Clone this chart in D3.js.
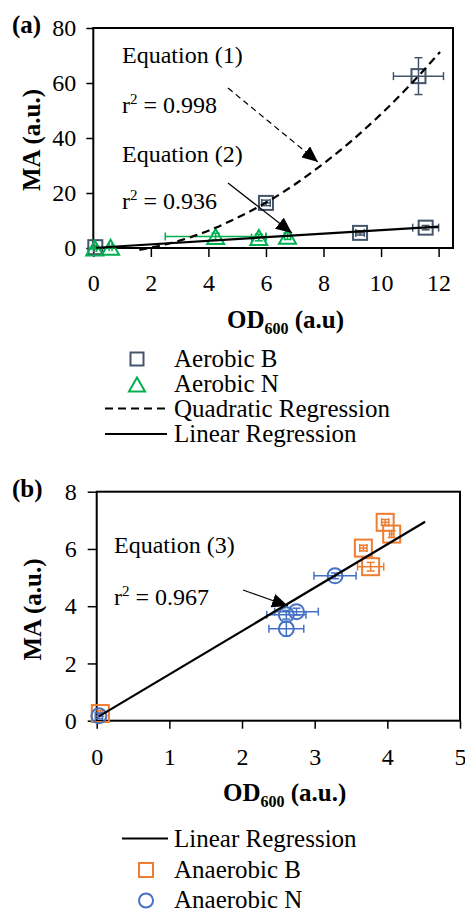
<!DOCTYPE html>
<html>
<head>
<meta charset="UTF-8">
<title>MA vs OD600</title>
<script src="https://d3js.org/d3.v7.min.js"></script>
<style>
  body { margin: 0; background: #fff; }
  svg { display: block; font-family: "Liberation Serif", "Times New Roman", serif; }
  .tick text { font-size: 24px; fill: #000; }
  .tick line { stroke: #000; stroke-width: 1.5px; }
</style>
</head>
<body>
<svg width="465" height="911"></svg>
<script>
// ---- panel (a) data ----
const aerobicB_x  = [0.07, 6.0, 9.27, 11.55, 11.3];
const aerobicB_y  = [0.3, 16.4, 5.5, 7.4, 62.5];
const aerobicB_ex = [0.05, 0.15, 0.15, 0.45, 0.87];
const aerobicB_ey = [0.4, 1.0, 0.8, 0.8, 6.7];

const aerobicN_x  = [0.05, 0.6, 4.25, 5.75, 6.75];
const aerobicN_y  = [0.0, 0.3, 4.2, 3.8, 4.3];
const aerobicN_ex = [0.05, 0.05, 1.75, 0.25, 0.1];
const aerobicN_ey = [0.3, 0.3, 1.2, 1.2, 1.2];

// regression curves
const quadA_x = [1.6, 2.5, 3, 4, 5, 6, 7, 8, 9, 10, 11, 12.05];
const quadA_y = [-0.7, 1.3, 2.7, 6.3, 11.0, 16.5, 23.1, 30.7, 39.2, 48.7, 59.2, 71.3];
const linA_x = [0.1, 12.0];
const linA_y = [0.1, 7.8];

const ticksA_x = [0, 2, 4, 6, 8, 10, 12];
const ticksA_y = [0, 20, 40, 60, 80];

// ---- panel (b) data ----
const anaerobicB_x  = [0.05, 3.67, 3.97, 4.06, 3.77];
const anaerobicB_y  = [0.25, 6.03, 6.93, 6.52, 5.38];
const anaerobicB_ex = [0.03, 0.05, 0.05, 0.03, 0.18];
const anaerobicB_ey = [0.1, 0.1, 0.1, 0.12, 0.15];

const anaerobicN_x  = [0.03, 3.28, 2.75, 2.61, 2.61];
const anaerobicN_y  = [0.17, 5.06, 3.81, 3.70, 3.21];
const anaerobicN_ex = [0.05, 0.29, 0.3, 0.27, 0.24];
const anaerobicN_ey = [0.1, 0.1, 0.12, 0.15, 0.25];

const linB_x = [0.03, 4.52];
const linB_y = [0.15, 6.95];

const ticksB_x = [0, 1, 2, 3, 4, 5];
const ticksB_y = [0, 2, 4, 6, 8];

const C_AB = "#44546A", C_AN = "#00B050", C_ANB = "#ED7D31", C_ANN = "#4472C4";

const svg = d3.select("svg");

// arrow head marker
svg.append("defs").append("marker")
  .attr("id", "head")
  .attr("markerUnits", "userSpaceOnUse")
  .attr("markerWidth", 17).attr("markerHeight", 14)
  .attr("refX", 16).attr("refY", 7)
  .attr("orient", "auto")
  .append("path").attr("d", "M0,0 L16,7 L0,14 Z").attr("fill", "#000");

function zip(xs, ys, exs, eys) {
  return xs.map((x, i) => ({x, y: ys[i], ex: exs ? exs[i] : 0, ey: eys ? eys[i] : 0}));
}

function makePanel(cfg) {
  const x = d3.scaleLinear().domain(cfg.xDom).range([cfg.left, cfg.right]);
  const y = d3.scaleLinear().domain(cfg.yDom).range([cfg.bottom, cfg.top]);
  const g = svg.append("g");

  g.append("g").attr("transform", `translate(0,${cfg.bottom})`)
    .call(d3.axisBottom(x).tickValues(cfg.xTicks).tickSize(cfg.xTickLen).tickPadding(cfg.xPad).tickFormat(d3.format("d")))
    .call(a => a.select(".domain").remove())
    .attr("font-family", null).attr("font-size", null);
  g.append("g").attr("transform", `translate(${cfg.left},0)`)
    .call(d3.axisLeft(y).tickValues(cfg.yTicks).tickSize(cfg.yTickLen).tickPadding(cfg.yPad).tickFormat(d3.format("d")))
    .call(a => a.select(".domain").remove())
    .attr("font-family", null).attr("font-size", null);

  g.append("rect")
    .attr("x", cfg.left).attr("y", cfg.top)
    .attr("width", cfg.right - cfg.left).attr("height", cfg.bottom - cfg.top)
    .attr("fill", "none").attr("stroke", "#000").attr("stroke-width", 2);

  return {x, y, g};
}

function errorBars(p, data, color, cap) {
  const eb = p.g.append("g").attr("stroke", color).attr("stroke-width", 1.5).attr("fill", "none");
  data.forEach(d => {
    const cx = p.x(d.x), cy = p.y(d.y);
    const x0 = p.x(d.x - d.ex), x1 = p.x(d.x + d.ex);
    const y0 = p.y(d.y - d.ey), y1 = p.y(d.y + d.ey);
    eb.append("line").attr("x1", x0).attr("x2", x1).attr("y1", cy).attr("y2", cy);
    eb.append("line").attr("x1", x0).attr("x2", x0).attr("y1", cy - cap).attr("y2", cy + cap);
    eb.append("line").attr("x1", x1).attr("x2", x1).attr("y1", cy - cap).attr("y2", cy + cap);
    eb.append("line").attr("x1", cx).attr("x2", cx).attr("y1", y0).attr("y2", y1);
    eb.append("line").attr("x1", cx - cap).attr("x2", cx + cap).attr("y1", y0).attr("y2", y0);
    eb.append("line").attr("x1", cx - cap).attr("x2", cx + cap).attr("y1", y1).attr("y2", y1);
  });
}

function squares(g, pts, color, s) {
  g.selectAll(null).data(pts).enter().append("rect")
    .attr("x", d => d[0] - s / 2).attr("y", d => d[1] - s / 2)
    .attr("width", s).attr("height", s)
    .attr("fill", "none").attr("stroke", color).attr("stroke-width", 2);
}
function triangles(g, pts, color, w, h) {
  g.selectAll(null).data(pts).enter().append("path")
    .attr("d", d => `M${d[0]},${d[1] - h / 2} L${d[0] + w / 2},${d[1] + h / 2} L${d[0] - w / 2},${d[1] + h / 2} Z`)
    .attr("fill", "none").attr("stroke", color).attr("stroke-width", 2);
}
function circles(g, pts, color, r) {
  g.selectAll(null).data(pts).enter().append("circle")
    .attr("cx", d => d[0]).attr("cy", d => d[1]).attr("r", r)
    .attr("fill", "none").attr("stroke", color).attr("stroke-width", 2);
}

function rsq(g, x, yb, val) {
  const t = g.append("text").attr("x", x).attr("y", yb).attr("font-size", 24);
  t.append("tspan").text("r");
  t.append("tspan").attr("font-size", 15).attr("dy", -9).text("2");
  t.append("tspan").attr("dy", 9).text(" = " + val);
}

function odTitle(g, x, yb, unit) {
  const t = g.append("text").attr("x", x).attr("y", yb).attr("font-size", 25).attr("font-weight", "bold");
  t.append("tspan").text("OD");
  t.append("tspan").attr("font-size", 16).attr("dy", 6).text("600");
  t.append("tspan").attr("dy", -6).text(" " + unit);
}

function maTitle(g, x, yc) {
  g.append("text").attr("transform", `translate(${x},${yc}) rotate(-90)`)
    .attr("text-anchor", "middle").attr("font-size", 25).attr("font-weight", "bold")
    .text("MA (a.u.)");
}

// ================= panel (a) =================
const pa = makePanel({
  left: 93.3, right: 453, top: 28, bottom: 248,
  xDom: [0, 12.5], yDom: [0, 80],
  xTicks: ticksA_x, yTicks: ticksA_y,
  xTickLen: 9, xPad: 17, yTickLen: 7, yPad: 10
});

const aB = zip(aerobicB_x, aerobicB_y, aerobicB_ex, aerobicB_ey);
const aN = zip(aerobicN_x, aerobicN_y, aerobicN_ex, aerobicN_ey);
errorBars(pa, aB, C_AB, 4);
errorBars(pa, aN, C_AN, 4);
squares(pa.g, aB.map(d => [pa.x(d.x), pa.y(d.y)]), C_AB, 14);
triangles(pa.g, aN.map(d => [pa.x(d.x), pa.y(d.y)]), C_AN, 17, 15);

pa.g.append("path")
  .datum(zip(quadA_x, quadA_y))
  .attr("d", d3.line().x(d => pa.x(d.x)).y(d => pa.y(d.y)).curve(d3.curveMonotoneX))
  .attr("fill", "none").attr("stroke", "#000").attr("stroke-width", 2.2).attr("stroke-dasharray", "8,5");
pa.g.append("path")
  .datum(zip(linA_x, linA_y))
  .attr("d", d3.line().x(d => pa.x(d.x)).y(d => pa.y(d.y)))
  .attr("fill", "none").attr("stroke", "#000").attr("stroke-width", 2.2);

pa.g.append("text").attr("x", 122).attr("y", 63).attr("font-size", 24).text("Equation (1)");
rsq(pa.g, 122, 112.5, "0.998");
pa.g.append("text").attr("x", 122).attr("y", 161.5).attr("font-size", 24).text("Equation (2)");
rsq(pa.g, 122, 209, "0.936");

pa.g.append("line").attr("x1", 228).attr("y1", 88).attr("x2", 318).attr("y2", 162)
  .attr("stroke", "#000").attr("stroke-width", 1.2).attr("stroke-dasharray", "6,4")
  .attr("marker-end", "url(#head)");
pa.g.append("line").attr("x1", 228).attr("y1", 183).attr("x2", 292).attr("y2", 233)
  .attr("stroke", "#000").attr("stroke-width", 1.2)
  .attr("marker-end", "url(#head)");

svg.append("text").attr("x", 12).attr("y", 33).attr("font-size", 25).attr("font-weight", "bold").text("(a)");
maTitle(svg, 39.5, 140);
odTitle(svg, 227, 328, "(a.u)");

// legend (a)
const la = svg.append("g").attr("font-size", 25);
squares(la, [[137, 359]], C_AB, 13);
triangles(la, [[137, 384.5]], C_AN, 16, 14);
la.append("line").attr("x1", 105).attr("x2", 167).attr("y1", 408.5).attr("y2", 408.5)
  .attr("stroke", "#000").attr("stroke-width", 2).attr("stroke-dasharray", "8,5");
la.append("line").attr("x1", 105).attr("x2", 167).attr("y1", 434).attr("y2", 434)
  .attr("stroke", "#000").attr("stroke-width", 2);
la.append("text").attr("x", 174).attr("y", 366.5).text("Aerobic B");
la.append("text").attr("x", 174).attr("y", 391.5).text("Aerobic N");
la.append("text").attr("x", 174).attr("y", 416.5).text("Quadratic Regression");
la.append("text").attr("x", 174).attr("y", 441.5).text("Linear Regression");

// ================= panel (b) =================
const pb = makePanel({
  left: 96.7, right: 460, top: 491.7, bottom: 720.7,
  xDom: [0, 5], yDom: [0, 8],
  xTicks: ticksB_x, yTicks: ticksB_y,
  xTickLen: 8, xPad: 19, yTickLen: 9, yPad: 11
});

const bB = zip(anaerobicB_x, anaerobicB_y, anaerobicB_ex, anaerobicB_ey);
const bN = zip(anaerobicN_x, anaerobicN_y, anaerobicN_ex, anaerobicN_ey);
errorBars(pb, bB, C_ANB, 4);
errorBars(pb, bN, C_ANN, 4);
squares(pb.g, bB.map(d => [pb.x(d.x), pb.y(d.y)]), C_ANB, 17);
circles(pb.g, bN.map(d => [pb.x(d.x), pb.y(d.y)]), C_ANN, 7.5);

pb.g.append("path")
  .datum(zip(linB_x, linB_y))
  .attr("d", d3.line().x(d => pb.x(d.x)).y(d => pb.y(d.y)))
  .attr("fill", "none").attr("stroke", "#000").attr("stroke-width", 2.2);

pb.g.append("text").attr("x", 114).attr("y", 553).attr("font-size", 24).text("Equation (3)");
rsq(pb.g, 114, 605, "0.967");
pb.g.append("line").attr("x1", 243).attr("y1", 590).attr("x2", 288).attr("y2", 606)
  .attr("stroke", "#000").attr("stroke-width", 1.2)
  .attr("marker-end", "url(#head)");

svg.append("text").attr("x", 12).attr("y", 497).attr("font-size", 25).attr("font-weight", "bold").text("(b)");
maTitle(svg, 41, 609.5);
odTitle(svg, 223, 800.5, "(a.u.)");

// legend (b)
const lb = svg.append("g").attr("font-size", 25);
lb.append("line").attr("x1", 122).attr("x2", 168).attr("y1", 838.5).attr("y2", 838.5)
  .attr("stroke", "#000").attr("stroke-width", 2);
squares(lb, [[146, 870]], C_ANB, 14);
circles(lb, [[146, 900.5]], C_ANN, 7);
lb.append("text").attr("x", 174).attr("y", 846.5).text("Linear Regression");
lb.append("text").attr("x", 174).attr("y", 877.5).text("Anaerobic B");
lb.append("text").attr("x", 174).attr("y", 908).text("Anaerobic N");
</script>
</body>
</html>
